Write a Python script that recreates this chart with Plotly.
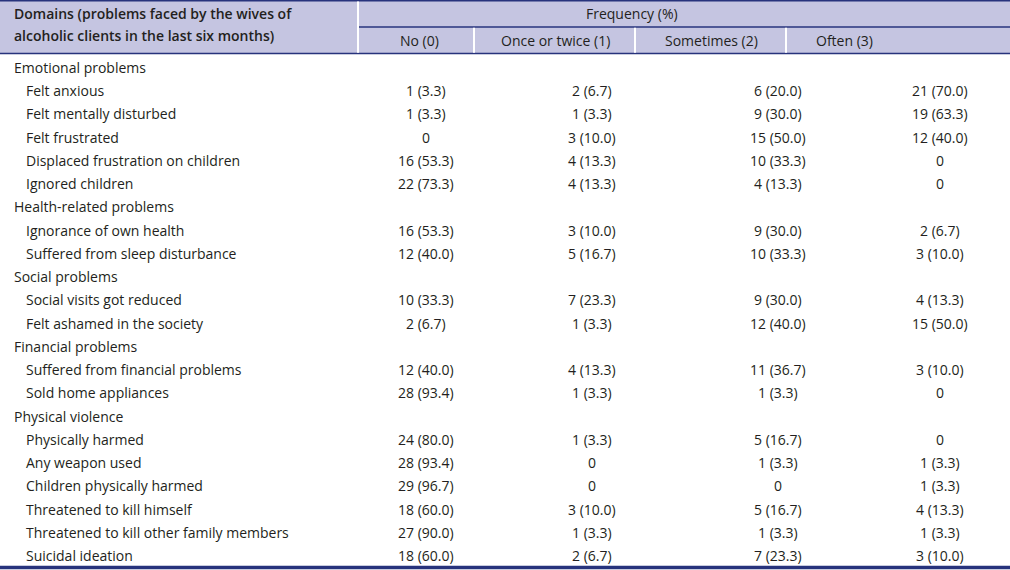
import plotly.graph_objects as go

# ---------------- data ----------------
domains = ["Emotional problems", "Health-related problems", "Social problems",
           "Financial problems", "Physical violence"]
domain_sizes = [5, 2, 2, 2, 6]
items = ["Felt anxious", "Felt mentally disturbed", "Felt frustrated",
         "Displaced frustration on children", "Ignored children",
         "Ignorance of own health", "Suffered from sleep disturbance",
         "Social visits got reduced", "Felt ashamed in the society",
         "Suffered from financial problems", "Sold home appliances",
         "Physically harmed", "Any weapon used", "Children physically harmed",
         "Threatened to kill himself", "Threatened to kill other family members",
         "Suicidal ideation"]
columns = ["No (0)", "Once or twice (1)", "Sometimes (2)", "Often (3)"]

no_n = [1, 1, 0, 16, 22, 16, 12, 10, 2, 12, 28, 24, 28, 29, 18, 27, 18]
no_pct = [3.3, 3.3, 0, 53.3, 73.3, 53.3, 40.0, 33.3, 6.7, 40.0, 93.4, 80.0, 93.4, 96.7, 60.0, 90.0, 60.0]
once_n = [2, 1, 3, 4, 4, 3, 5, 7, 1, 4, 1, 1, 0, 0, 3, 1, 2]
once_pct = [6.7, 3.3, 10.0, 13.3, 13.3, 10.0, 16.7, 23.3, 3.3, 13.3, 3.3, 3.3, 0, 0, 10.0, 3.3, 6.7]
some_n = [6, 9, 15, 10, 4, 9, 10, 9, 12, 11, 1, 5, 1, 0, 5, 1, 7]
some_pct = [20.0, 30.0, 50.0, 33.3, 13.3, 30.0, 33.3, 30.0, 40.0, 36.7, 3.3, 16.7, 3.3, 0, 16.7, 3.3, 23.3]
often_n = [21, 19, 12, 0, 0, 2, 3, 4, 15, 3, 0, 0, 1, 1, 4, 1, 3]
often_pct = [70.0, 63.3, 40.0, 0, 0, 6.7, 10.0, 13.3, 50.0, 10.0, 0, 0, 3.3, 3.3, 13.3, 3.3, 10.0]

header_domain_lines = ["Domains (problems faced by the wives of",
                       "alcoholic clients in the last six months)"]
header_freq = "Frequency (%)"

# ---------------- layout/style ----------------
W, H = 1010, 570
HEAD_BG = "#c5c5e1"
NAVY = "#27337c"
TXT = "#231f20"
FONT = "Open Sans"
FS = 14
col_bounds = [358, 474, 635, 786, 1010]
col_head_x = [419, 555, 711, 844]
col_val_x = [426, 592, 778, 940]
row0_y = 67.5
row_step = 23.24

def fmt(n, p):
    return "0" if n == 0 else f"{n} ({p:.1f})"

series = [(no_n, no_pct), (once_n, once_pct), (some_n, some_pct), (often_n, often_pct)]

fig = go.Figure()
ann = []
shapes = []

# header background
shapes.append(dict(type="rect", x0=0, x1=W, y0=0, y1=53.5, fillcolor=HEAD_BG, line_width=0, layer="below"))
# header lines
shapes.append(dict(type="line", x0=0, x1=W, y0=0.7, y1=0.7, line=dict(color=NAVY, width=1.5)))
shapes.append(dict(type="line", x0=col_bounds[0], x1=W, y0=27, y1=27, line=dict(color=NAVY, width=1.5)))
shapes.append(dict(type="line", x0=0, x1=W, y0=53.5, y1=53.5, line=dict(color=NAVY, width=1.5)))
shapes.append(dict(type="line", x0=col_bounds[0], x1=col_bounds[0], y0=1.5, y1=52.8, line=dict(color="white", width=2)))
for xb in col_bounds[1:4]:
    shapes.append(dict(type="line", x0=xb, x1=xb, y0=27.8, y1=52.8, line=dict(color="white", width=2)))
shapes.append(dict(type="line", x0=0, x1=W, y0=567.5, y1=567.5, line=dict(color=NAVY, width=3.5)))

# header text
for yy, line in zip([13.5, 35.5], header_domain_lines):
    ann.append(dict(x=12, y=yy, text=line, xanchor="left", yanchor="middle", align="left",
                    font=dict(family=FONT, size=FS, color=TXT, weight=600)))
ann.append(dict(x=632, y=13.5, text=header_freq, xanchor="center", yanchor="middle",
                font=dict(family=FONT, size=FS, color=TXT)))
for cx, c in zip(col_head_x, columns):
    ann.append(dict(x=cx, y=40.5, text=c, xanchor="center", yanchor="middle",
                    font=dict(family=FONT, size=FS, color=TXT)))

# body
r = 0
k = 0
for d, sz in zip(domains, domain_sizes):
    y = row0_y + r * row_step
    ann.append(dict(x=12, y=y, text=d, xanchor="left", yanchor="middle",
                    font=dict(family=FONT, size=FS, color=TXT)))
    r += 1
    for _ in range(sz):
        y = row0_y + r * row_step
        ann.append(dict(x=24, y=y, text=items[k], xanchor="left", yanchor="middle",
                        font=dict(family=FONT, size=FS, color=TXT)))
        for cx, (ns, ps) in zip(col_val_x, series):
            ann.append(dict(x=cx, y=y, text=fmt(ns[k], ps[k]), xanchor="center", yanchor="middle",
                            font=dict(family=FONT, size=FS, color=TXT)))
        r += 1
        k += 1

for a in ann:
    a["showarrow"] = False
    a["xref"] = "x"
    a["yref"] = "y"

fig.update_layout(
    width=W, height=H, margin=dict(l=0, r=0, t=0, b=0),
    paper_bgcolor="white", plot_bgcolor="white",
    xaxis=dict(range=[0, W], visible=False, fixedrange=True),
    yaxis=dict(range=[H, 0], visible=False, fixedrange=True),
    shapes=shapes, annotations=ann, showlegend=False,
)
fig.write_html("out.html", config={"displayModeBar": False},
               post_script="document.body.style.margin='0';document.body.style.overflow='hidden';")
